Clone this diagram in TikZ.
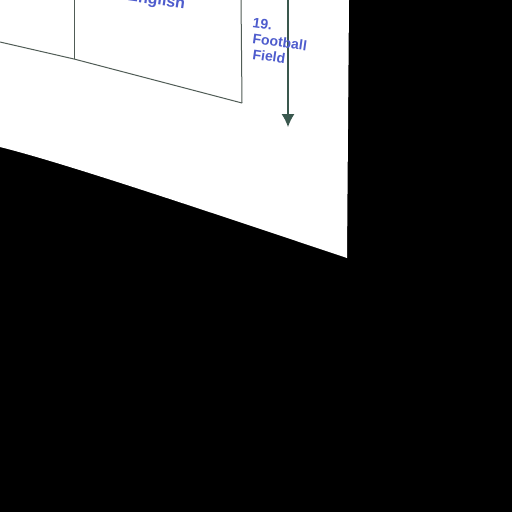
\documentclass[tikz,border=0pt]{standalone}
\usepackage{fontspec}
\setmainfont{Liberation Sans}
\usetikzlibrary{arrows.meta}
\definecolor{labelblue}{RGB}{78,92,205}
\definecolor{linegray}{RGB}{80,92,86}
\definecolor{arrowgreen}{RGB}{58,88,78}
\tikzset{
  lbl/.style={text=labelblue, font=\fontsize{14}{14}\selectfont\bfseries, inner sep=0pt, anchor=base west, rotate=-8},
  wall/.style={draw=linegray, line width=1pt},
}
\begin{document}
\begin{tikzpicture}[x=1pt,y=-1pt]
\useasboundingbox (0,0) rectangle (512,512);
\fill[black] (0,0) rectangle (512,512);
\fill[white] (0,0) -- (349,0) -- (347,258) .. controls (180,202) and (60,162) .. (0,147) -- cycle;
\begin{scope}
\clip (0,0) -- (349,0) -- (347,258) .. controls (180,202) and (60,162) .. (0,147) -- cycle;
\coordinate (a) at (0,42);
\coordinate (b) at (74,59);
\coordinate (bt) at (74,-2);
\coordinate (c) at (242,103);
\coordinate (ct) at (241,-2);
\draw[wall] (a) -- (b) -- (c);
\draw[wall] (bt) -- (b);
\draw[wall] (ct) -- (c);
\node[lbl, font=\fontsize{16}{16}\selectfont\bfseries] (eng) at (127,0.6) {English};
\coordinate (as) at (288,-2);
\coordinate (ae) at (288,127);
\draw[arrowgreen, line width=1.2pt, -{Latex[length=13pt,width=13pt]}] (as) -- (ae);
\node[lbl] (l1) at (252,27) {19.};
\node[lbl] (l2) at (252,43) {Football};
\node[lbl] (l3) at (252,59) {Field};
\end{scope}
\end{tikzpicture}
\end{document}
